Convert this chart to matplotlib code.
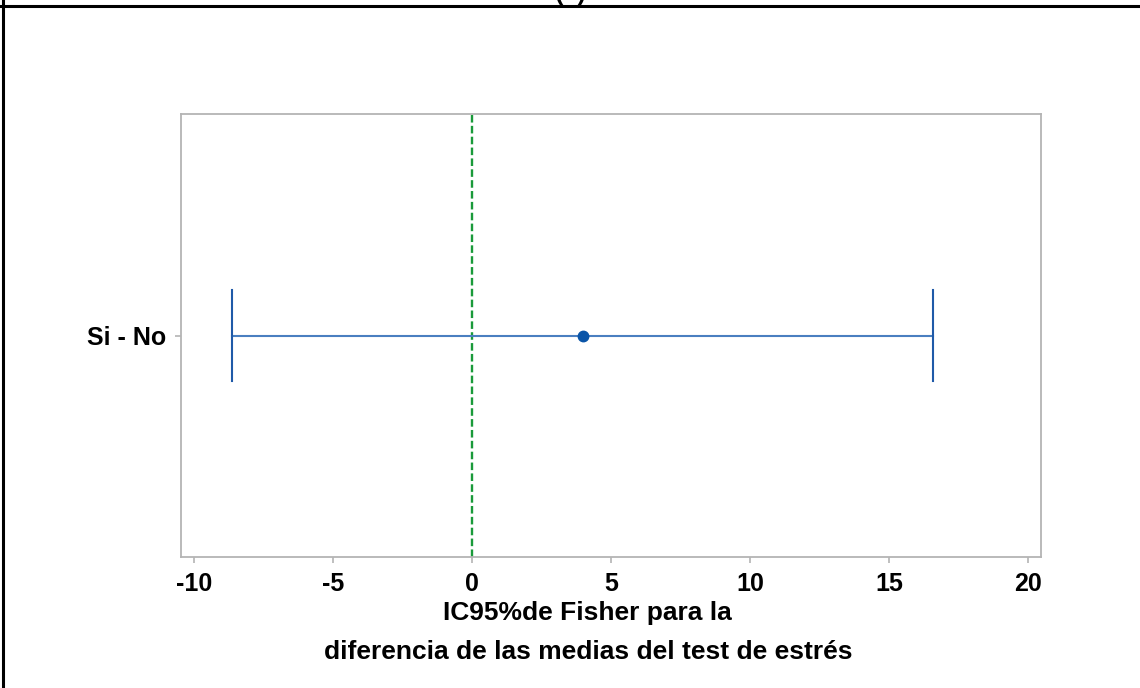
import matplotlib
matplotlib.use("Agg")
import matplotlib.pyplot as plt
from matplotlib.lines import Line2D

# Fisher 95% CI for the difference of means (Si - No)
comparisons = ["Si - No"]
lower = [-8.63]
center = [3.98]
upper = [16.59]
xticks = [-10, -5, 0, 5, 10, 15, 20]

plt.rcParams["font.family"] = ["Liberation Sans", "DejaVu Sans"]
plt.rcParams["font.weight"] = "bold"

fig = plt.figure(figsize=(11.4, 6.88), dpi=100)
ax = fig.add_axes([0.1588, 0.1904, 0.9132 - 0.1588, 0.8343 - 0.1904])

blue_line = "#4a7fc0"
blue_cap = "#1f5aa8"
blue_dot = "#0a55a8"

for i, name in enumerate(comparisons):
    ax.plot([lower[i], upper[i]], [i, i], color=blue_line, lw=1.5, zorder=2)
    for xc in (lower[i], upper[i]):
        ax.plot([xc, xc], [i - 0.205, i + 0.205], color=blue_cap, lw=1.5, zorder=2)
    ax.plot(center[i], i, "o", color=blue_dot, markersize=7.5, zorder=3)

ax.axvline(0, color="#1a9a3a", lw=1.7, ls=(0, (3.2, 1.4)), zorder=1)

ax.set_xlim(-10.47, 20.47)
ax.set_ylim(-1, 1)
ax.set_xticks(xticks)
ax.set_xticklabels([str(t) for t in xticks])
ax.set_yticks(range(len(comparisons)))
ax.set_yticklabels(comparisons)

for s in ax.spines.values():
    s.set_color("#b4b4b4")
    s.set_linewidth(1.3)
ax.tick_params(axis="both", colors="#b4b4b4", length=4, width=1.2,
               labelcolor="black", labelsize=18)
ax.tick_params(axis="x", pad=7)
ax.tick_params(axis="y", pad=7)

ax.set_xlabel("IC95%de Fisher para la\ndiferencia de las medias del test de estrés",
              fontsize=19, fontweight="bold", linespacing=1.75)
ax.xaxis.set_label_coords(0.473, -0.1, transform=ax.transAxes)
ax.xaxis.label.set_va("top")

# panel frame and cut-off panel letter
fig.add_artist(Line2D([0, 1], [1 - 5.5 / 688, 1 - 5.5 / 688],
                      transform=fig.transFigure, color="black", lw=2.2))
fig.add_artist(Line2D([2.5 / 1140, 2.5 / 1140], [0, 1],
                      transform=fig.transFigure, color="black", lw=2.2))
fig.text(571 / 1140, 1.0, "(b)", ha="center", va="baseline",
         fontsize=18, fontweight="bold")

fig.savefig("out.png", dpi=100, facecolor="white")
